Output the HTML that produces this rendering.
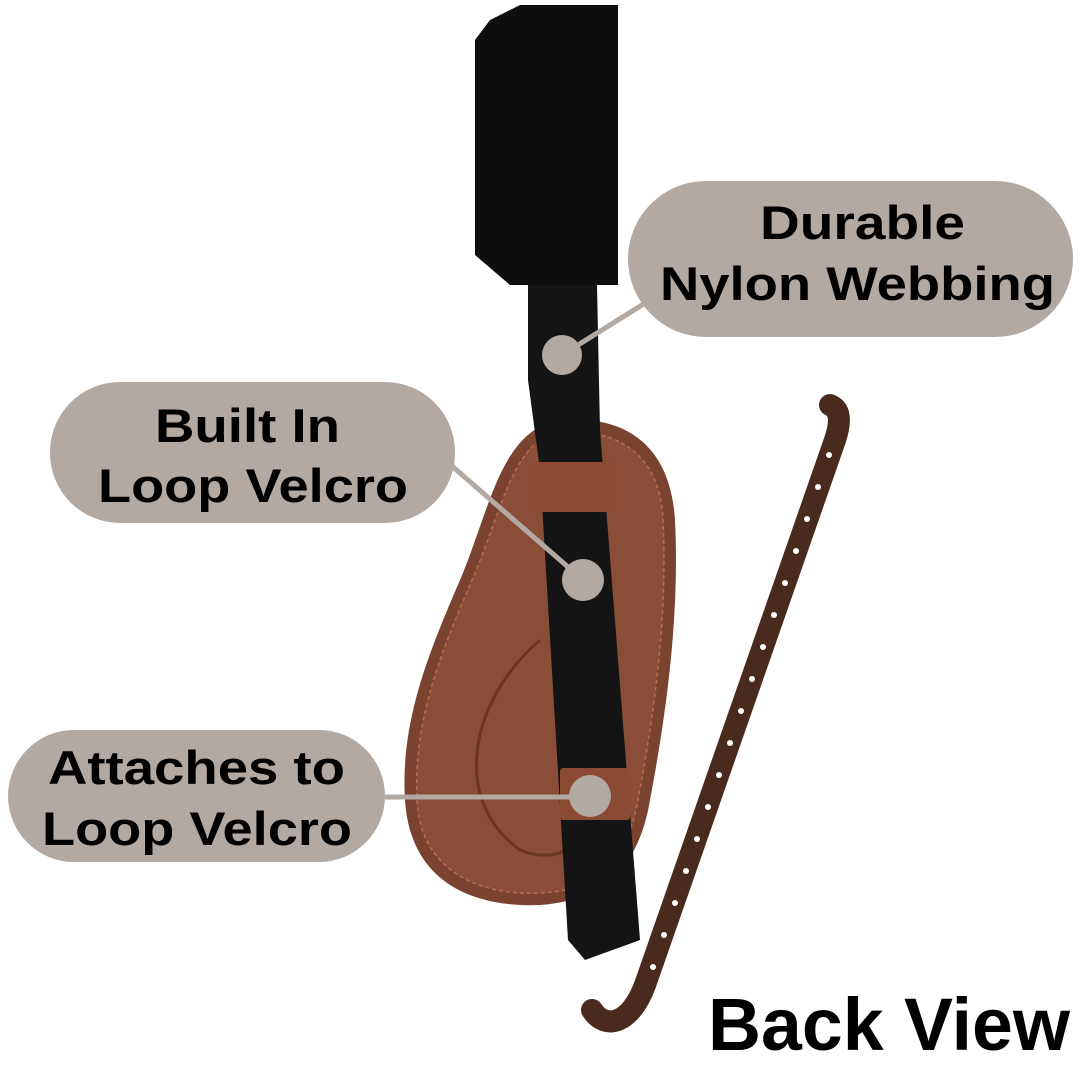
<!DOCTYPE html>
<html><head><style>
html,body{margin:0;padding:0;background:#fff;}
svg{display:block}
text{font-family:"Liberation Sans",sans-serif;font-weight:bold;}
</style></head><body>
<svg width="1080" height="1080" viewBox="0 0 1080 1080">
<!-- leather strap -->
<path d="M830 405 C842 410 840 425 835 440 L645 985 C630 1025 605 1030 592 1010" fill="none" stroke="#4a2a1c" stroke-width="22" stroke-linecap="round"/>
<g fill="#fff" transform="translate(11,0)">
<circle cx="818" cy="455" r="3"/><circle cx="807" cy="487" r="3"/><circle cx="796" cy="519" r="3"/><circle cx="785" cy="551" r="3"/><circle cx="774" cy="583" r="3"/><circle cx="763" cy="615" r="3"/><circle cx="752" cy="647" r="3"/><circle cx="741" cy="679" r="3"/><circle cx="730" cy="711" r="3"/><circle cx="719" cy="743" r="3"/><circle cx="708" cy="775" r="3"/><circle cx="697" cy="807" r="3"/><circle cx="686" cy="839" r="3"/><circle cx="675" cy="871" r="3"/><circle cx="664" cy="903" r="3"/><circle cx="653" cy="935" r="3"/><circle cx="642" cy="967" r="3"/>
</g>
<!-- leather pad -->
<path d="M560 420 C620 415 670 440 675 520 C680 620 665 720 650 800 C640 860 610 900 540 905 C470 908 410 880 405 800 C400 720 430 650 460 580 C490 510 500 430 560 420 Z" fill="#7a4330"/>
<path d="M560 432 C612 428 660 450 663 520 C668 620 653 720 638 800 C628 855 603 890 540 893 C478 896 420 870 417 800 C413 720 442 650 472 580 C502 512 512 440 560 432 Z" fill="#8a4e38" stroke="#b07050" stroke-width="1.5" stroke-dasharray="4 3"/>
<path d="M540 640 C470 700 450 800 520 850 C570 870 600 830 580 780" fill="none" stroke="#6a3624" stroke-width="3"/>
<!-- black strap -->
<path d="M528 285 L597 285 L600 430 L640 940 L585 960 L568 940 L540 470 L528 380 Z" fill="#141414"/>
<rect x="535" y="462" width="80" height="50" fill="#8a4a34" rx="3"/>
<rect x="560" y="768" width="70" height="52" fill="#8a4a34" rx="3"/>
<!-- black velcro top -->
<path d="M490 20 L520 5 L618 5 L618 285 L510 285 L475 255 L475 40 Z" fill="#0e0e0e"/>
<!-- callouts -->
<line x1="562" y1="355" x2="650" y2="300" stroke="#b2a9a3" stroke-width="5"/>
<line x1="583" y1="580" x2="445" y2="460" stroke="#b2a9a3" stroke-width="5"/>
<line x1="385" y1="797" x2="590" y2="797" stroke="#b2a9a3" stroke-width="5"/>
<circle cx="562" cy="355" r="20" fill="#b2a9a3"/>
<circle cx="583" cy="580" r="21" fill="#b2a9a3"/>
<circle cx="590" cy="796" r="21" fill="#b2a9a3"/>
<rect x="628" y="181" width="445" height="156" rx="78" fill="#b2a9a3"/>
<rect x="50" y="382" width="405" height="141" rx="70" fill="#b2a9a3"/>
<rect x="8" y="730" width="377" height="132" rx="66" fill="#b2a9a3"/>
<g fill="#000" font-size="47">
<text x="760" y="239" textLength="205" lengthAdjust="spacingAndGlyphs">Durable</text>
<text x="660" y="300" textLength="395" lengthAdjust="spacingAndGlyphs">Nylon Webbing</text>
<text x="155" y="442" textLength="185" lengthAdjust="spacingAndGlyphs">Built In</text>
<text x="98" y="502" textLength="310" lengthAdjust="spacingAndGlyphs">Loop Velcro</text>
<text x="48" y="784" textLength="297" lengthAdjust="spacingAndGlyphs">Attaches to</text>
<text x="42" y="845" textLength="310" lengthAdjust="spacingAndGlyphs">Loop Velcro</text>
</g>
<text x="708" y="1050" font-size="74" textLength="362" lengthAdjust="spacingAndGlyphs" fill="#000">Back View</text>
</svg>
</body></html>
